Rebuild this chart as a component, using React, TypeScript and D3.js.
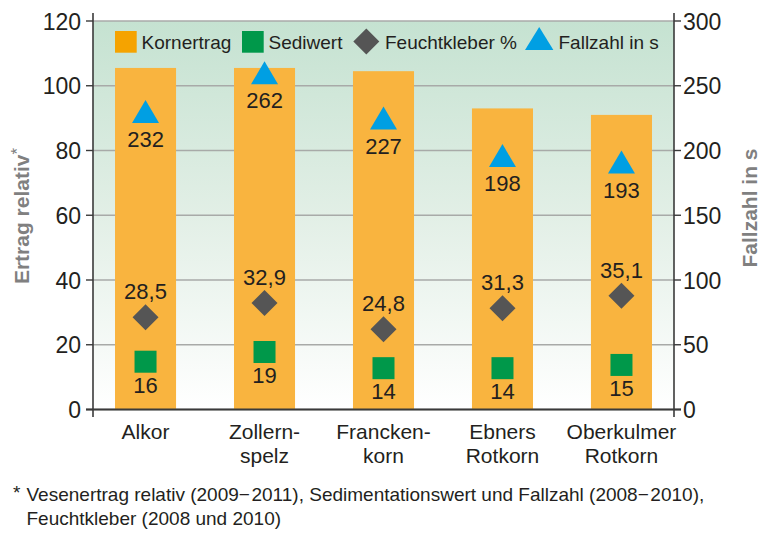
import React from "react";
import * as d3 from "d3";

const categoryLines: string[][] = [
  ["Alkor"],
  ["Zollern-", "spelz"],
  ["Francken-", "korn"],
  ["Ebners", "Rotkorn"],
  ["Oberkulmer", "Rotkorn"],
];
const categories = categoryLines.map((l) => l.join(" "));
const kornertrag = [105.5, 105.5, 104.5, 93, 91];
const sediwert = [16, 19, 14, 14, 15];
const feuchtkleber = [28.5, 32.9, 24.8, 31.3, 35.1];
const fallzahl = [232, 262, 227, 198, 193];
const leftTicks = [0, 20, 40, 60, 80, 100, 120];
const rightTicks = [0, 50, 100, 150, 200, 250, 300];
const legendLabels = ["Kornertrag", "Sediwert", "Feuchtkleber %", "Fallzahl in s"];
const leftTitle = "Ertrag relativ";
const rightTitle = "Fallzahl in s";
const footnote1 = "Vesenertrag relativ (2009\u2212\u200a2011), Sedimentationswert und Fallzahl (2008\u2212\u200a2010),";
const footnote2 = "Feuchtkleber (2008 und 2010)";

const W = 772;
const H = 546;
const X0 = 93;
const X1 = 674;
const Y0 = 409.5;
const Y1 = 21;
const FONT = "'Liberation Sans', Arial, sans-serif";
const TEXT = "#231f20";
const BAR = "#f9b43f";
const ORANGE = "#f5a300";
const GREEN = "#00984a";
const GREY = "#555555";
const BLUE = "#009fe3";
const AXIS = "#3a3a3a";
const GRID = "#a8aaa8";

export default function App() {
  const x = d3
    .scaleBand<string>()
    .domain(categories)
    .range([X0, X1])
    .paddingInner(0.487)
    .paddingOuter(0.185);
  const yL = d3.scaleLinear().domain([0, 120]).range([Y0, Y1]);
  const yR = d3.scaleLinear().domain([0, 300]).range([Y0, Y1]);
  const cx = (c: string) => (x(c) as number) + x.bandwidth() / 2;
  const fmt = (v: number) => String(v).replace(".", ",");
  const diamond = (px: number, py: number, r: number) =>
    `M${px},${py - r}L${px + r},${py}L${px},${py + r}L${px - r},${py}Z`;
  const tri = (px: number, top: number, bottom: number, hw: number) =>
    `M${px},${top}L${px + hw},${bottom}L${px - hw},${bottom}Z`;

  return (
    <svg
      width={W}
      height={H}
      viewBox={`0 0 ${W} ${H}`}
      style={{ position: "absolute", left: 0, top: 0, background: "#fff" }}
      fontFamily={FONT}
    >
      <defs>
        <linearGradient id="bg" x1="0" y1="0" x2="0" y2="1">
          <stop offset="0" stopColor="#c5e2d1" />
          <stop offset="0.5" stopColor="#e2efe6" />
          <stop offset="1" stopColor="#ffffff" />
        </linearGradient>
      </defs>
      <rect x={X0} y={Y1} width={X1 - X0} height={Y0 - Y1} fill="url(#bg)" />
      {/* grid */}
      {leftTicks.map((t) => (
        <line key={"g" + t} x1={X0} x2={X1} y1={yL(t)} y2={yL(t)} stroke={GRID} strokeWidth={1.6} />
      ))}
      {/* bars */}
      {categories.map((c, i) => (
        <rect key={"b" + c} x={x(c)} y={yL(kornertrag[i])} width={x.bandwidth()} height={Y0 - yL(kornertrag[i])} fill={BAR} />
      ))}
      {/* axes */}
      <line x1={X0} x2={X0} y1={13} y2={417} stroke={AXIS} strokeWidth={1.6} />
      <line x1={X1} x2={X1} y1={13} y2={417} stroke={AXIS} strokeWidth={1.6} />
      <line x1={86} x2={681} y1={Y0} y2={Y0} stroke={AXIS} strokeWidth={1.8} />
      {leftTicks.map((t) => (
        <g key={"lt" + t}>
          <line x1={86} x2={X0} y1={yL(t)} y2={yL(t)} stroke={AXIS} strokeWidth={1.4} />
          <text x={81} y={yL(t) + 8.5} textAnchor="end" fontSize={23} fill={TEXT}>
            {t}
          </text>
        </g>
      ))}
      {rightTicks.map((t) => (
        <g key={"rt" + t}>
          <line x1={X1} x2={681} y1={yR(t)} y2={yR(t)} stroke={AXIS} strokeWidth={1.4} />
          <text x={683} y={yR(t) + 8.5} textAnchor="start" fontSize={23} fill={TEXT}>
            {t}
          </text>
        </g>
      ))}
      {/* markers */}
      {categories.map((c, i) => {
        const px = cx(c);
        const ys = yL(sediwert[i]) + 4;
        const yd = yL(feuchtkleber[i]);
        const yt = yR(fallzahl[i]);
        return (
          <g key={"m" + c}>
            <rect x={px - 11} y={ys - 11} width={22} height={22} fill={GREEN} />
            <text x={px} y={ys + 31} textAnchor="middle" fontSize={22} fill={TEXT}>
              {sediwert[i]}
            </text>
            <path d={diamond(px, yd, 13)} fill={GREY} />
            <text x={px} y={yd - 18} textAnchor="middle" fontSize={22} fill={TEXT}>
              {fmt(feuchtkleber[i])}
            </text>
            <path d={tri(px, yt - 9, yt + 14, 13.5)} fill={BLUE} />
            <text x={px} y={yt + 38} textAnchor="middle" fontSize={22} fill={TEXT}>
              {fallzahl[i]}
            </text>
          </g>
        );
      })}
      {/* category labels */}
      {categories.map((c, i) => (
        <text key={"c" + c} x={cx(c)} y={438.5} textAnchor="middle" fontSize={21} fill={TEXT}>
          {categoryLines[i].map((l, j) => (
            <tspan key={j} x={cx(c)} dy={j === 0 ? 0 : 24.5}>
              {l}
            </tspan>
          ))}
        </text>
      ))}
      {/* legend */}
      <g fontSize={19} fill={TEXT}>
        <rect x={115} y={31} width={21.7} height={21.7} fill={ORANGE} />
        <text x={141.5} y={49.3}>{legendLabels[0]}</text>
        <rect x={242} y={31} width={21.7} height={21.7} fill={GREEN} />
        <text x={268.5} y={49.3}>{legendLabels[1]}</text>
        <path d={diamond(366.3, 41.5, 13)} fill={GREY} />
        <text x={385} y={49.3}>{legendLabels[2]}</text>
        <path d={tri(539.2, 27, 50, 14.2)} fill={BLUE} />
        <text x={558.5} y={49.3}>{legendLabels[3]}</text>
      </g>
      {/* axis titles */}
      <text
        transform={`translate(29,216) rotate(-90)`}
        textAnchor="middle"
        fontSize={21}
        fontWeight="bold"
        fill="#808080"
      >
        {leftTitle}
        <tspan fontWeight="normal" fontSize={17} dy={-6}>
          *
        </tspan>
      </text>
      <text
        transform={`translate(757,208) rotate(-90)`}
        textAnchor="middle"
        fontSize={21}
        fontWeight="bold"
        fill="#808080"
      >
        {rightTitle}
      </text>
      {/* footnote */}
      <g fontSize={19} fill={TEXT}>
        <text x={13} y={499}>*</text>
        <text x={26.5} y={501}>{footnote1}</text>
        <text x={26.5} y={525}>{footnote2}</text>
      </g>
    </svg>
  );
}
